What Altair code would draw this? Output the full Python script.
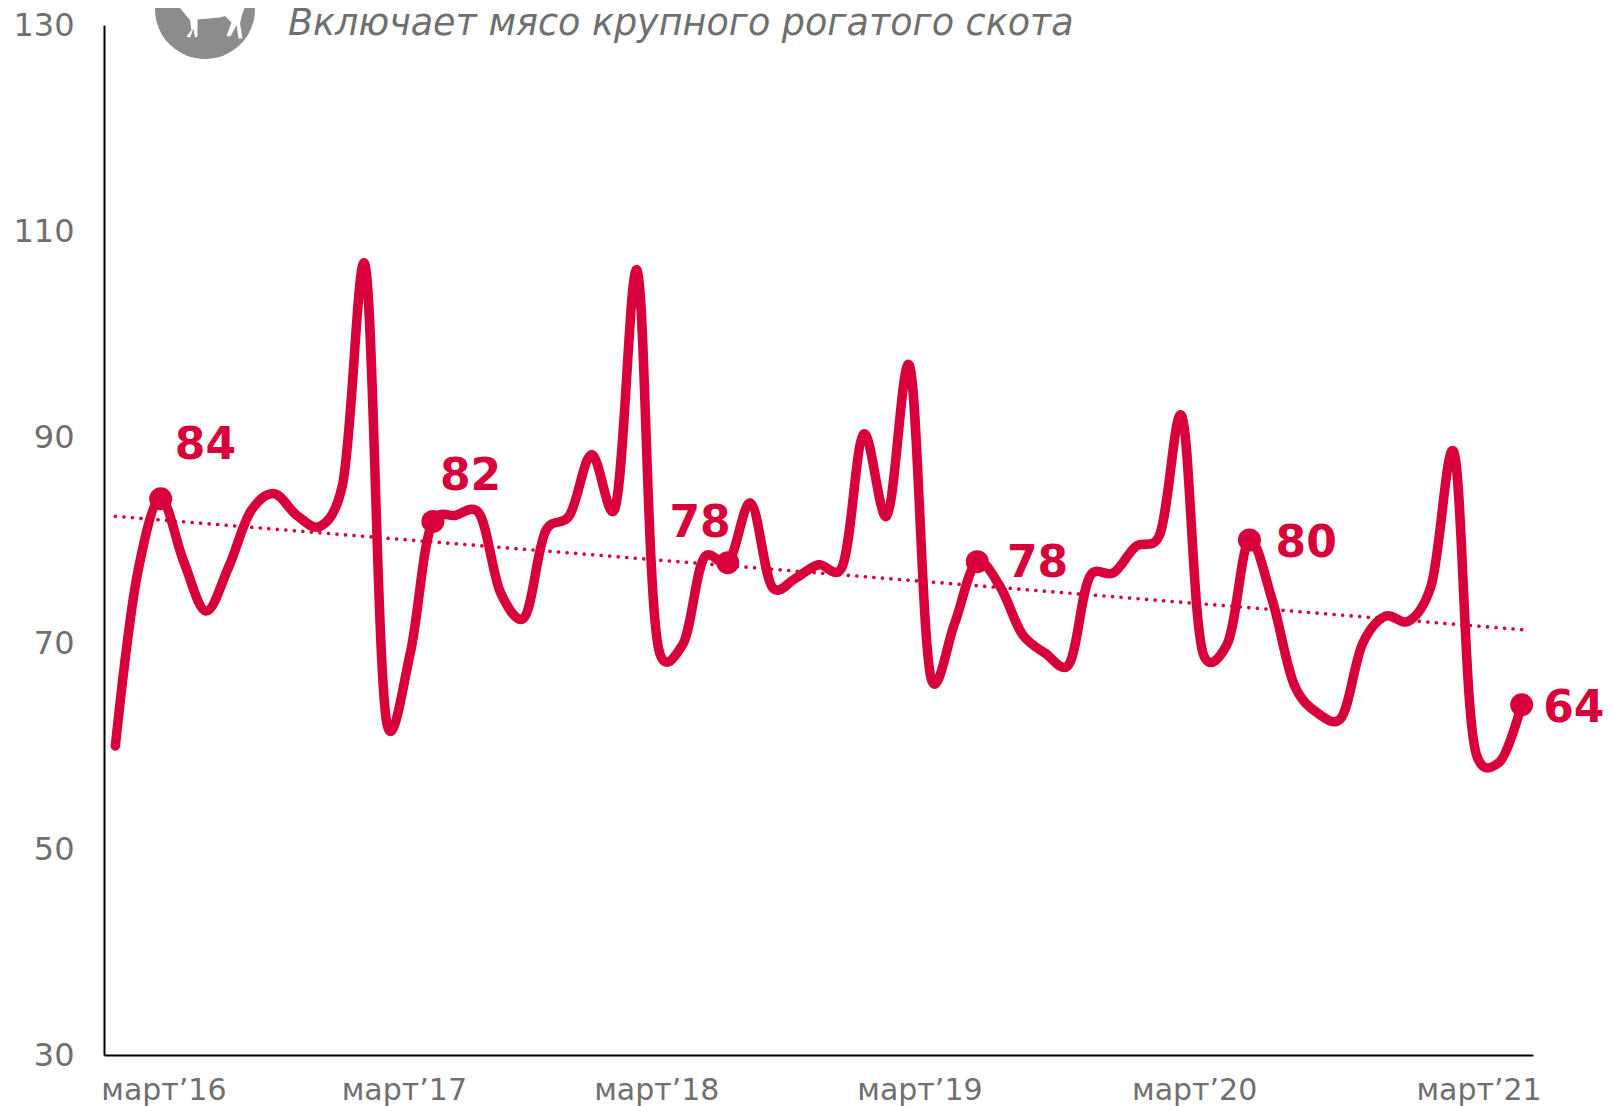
import altair as alt
import pandas as pd

values = [60, 77, 84, 78, 73.1, 77.4, 82.9, 84.5, 82.4, 81.3, 85.2, 106.8,
          61.9, 69, 81.8, 82.4, 82.7, 74.8, 72.4, 81, 82.3, 88.3, 82.9, 106.2,
          69, 69.8, 78.4, 77.8, 83.6, 75.3, 76.3, 77.6, 77.2, 90.3, 82.3, 97,
          66.3, 71.9, 77.9, 75.5, 70.8, 69, 67.8, 76.6, 76.8, 79.4, 80.3, 92.1,
          68.7, 69.8, 80, 74.2, 65.8, 63.2, 62.6, 70, 72.6, 72.1, 75.5, 88.6,
          59.2, 58.4, 64]
months = list(range(len(values)))
trend_x = [0, 62]
trend_y = [82.3, 71.3]
marked_x = [2, 14, 27, 38, 50, 62]
marked_y = [84, 81.8, 77.8, 77.9, 80, 64]
label_x = [3.97, 15.66, 25.78, 40.66, 52.5, 64.3]
label_y = [89.1, 86.1, 81.6, 77.7, 79.6, 63.6]
label_text = ["84", "82", "78", "78", "80", "64"]
tick_pos = [2.12, 12.72, 23.85, 35.45, 47.56, 60.1]
tick_text = ["март’16", "март’17", "март’18", "март’19", "март’20", "март’21"]
y_ticks = [30, 50, 70, 90, 110, 130]
note = "Включает мясо крупного рогатого скота"

RED = "#d8003a"
GRAY = "#6f6f6f"
FONT = "DejaVu Sans"

x_scale = alt.Scale(domain=[-0.5, 62.5], nice=False, zero=False)
y_scale = alt.Scale(domain=[30, 130], nice=False, zero=False)

label_expr = "{" + ",".join(f"'{p}':'{t}'" for p, t in zip(tick_pos, tick_text)) + "}[datum.value]"

x_axis = alt.Axis(values=tick_pos, labelExpr=label_expr, title=None, grid=False, ticks=False,
                  domainColor="#000000", domainWidth=2, labelColor=GRAY, labelFont=FONT,
                  labelFontSize=30, labelPadding=20, labelOverlap=False, labelFlush=False,
                  labelBound=False)
y_axis = alt.Axis(values=y_ticks, title=None, grid=False, ticks=False,
                  domainColor="#000000", domainWidth=2, labelColor=GRAY, labelFont=FONT,
                  labelFontSize=32, labelPadding=30, labelBound=False)

df = pd.DataFrame({"m": months, "v": values})
line = alt.Chart(df).mark_line(color=RED, strokeWidth=9.5, interpolate="catmull-rom", tension=0.25, strokeCap="round").encode(
    x=alt.X("m:Q", scale=x_scale, axis=x_axis),
    y=alt.Y("v:Q", scale=y_scale, axis=y_axis),
)
trend = alt.Chart(pd.DataFrame({"m": trend_x, "v": trend_y})).mark_line(
    color=RED, strokeWidth=3.6, strokeDash=[0.1, 8.45], strokeCap="round").encode(
    x=alt.X("m:Q", scale=x_scale), y=alt.Y("v:Q", scale=y_scale))
points = alt.Chart(pd.DataFrame({"m": marked_x, "v": marked_y})).mark_point(
    filled=True, color=RED, size=529, opacity=1, shape="circle").encode(
    x=alt.X("m:Q", scale=x_scale), y=alt.Y("v:Q", scale=y_scale))
labels = alt.Chart(pd.DataFrame({"m": label_x, "v": label_y, "t": label_text})).mark_text(
    color=RED, font=FONT, fontWeight="bold", fontSize=44, align="center", baseline="middle").encode(
    x=alt.X("m:Q", scale=x_scale), y=alt.Y("v:Q", scale=y_scale), text="t:N")

COW = ("M-0.87 -0.5 L-0.87 -0.18 L-0.6 -0.15 L-0.47 0.02 L-0.3 0.22 L-0.27 0.42 L-0.37 0.55 L-0.3 0.57 "
       "L-0.23 0.39 L-0.2 0.57 L-0.15 0.55 L-0.15 0.21 L0.3 0.17 L0.4 0.14 L0.53 0.27 L0.43 0.54 L0.51 0.55 "
       "L0.63 0.32 L0.67 0.59 L0.75 0.59 L0.7 0.29 L0.73 0.15 L0.8 -0.05 L0.73 -0.24 L0.73 -0.5 Z")
badge = alt.Chart(pd.DataFrame({"t": ["badge"]})).mark_point(
    filled=True, color="#8c8c8c", size=10000, opacity=1, shape="circle").encode(
    x=alt.value(101), y=alt.value(-16))
cow = alt.Chart(pd.DataFrame({"t": ["cow"]})).mark_point(
    filled=True, color="#ffffff", size=10000, opacity=1, shape=COW).encode(
    x=alt.value(101), y=alt.value(-16))
subtitle = alt.Chart(pd.DataFrame({"t": [note]})).mark_text(
    color=GRAY, font=FONT, fontStyle="italic", fontSize=36.5, align="left", baseline="alphabetic").encode(
    x=alt.value(184), y=alt.value(10), text="t:N")

chart = alt.layer(line, trend, points, labels, badge, cow, subtitle).properties(
    width=1429, height=1030,
    background="white",
    autosize=alt.AutoSizeParams(type="none"),
    padding={"left": 96, "top": 17, "right": 70, "bottom": 51},
).configure_view(stroke="transparent", strokeWidth=0)

chart.save("out.html", embed_options={"renderer": "svg", "actions": False})
